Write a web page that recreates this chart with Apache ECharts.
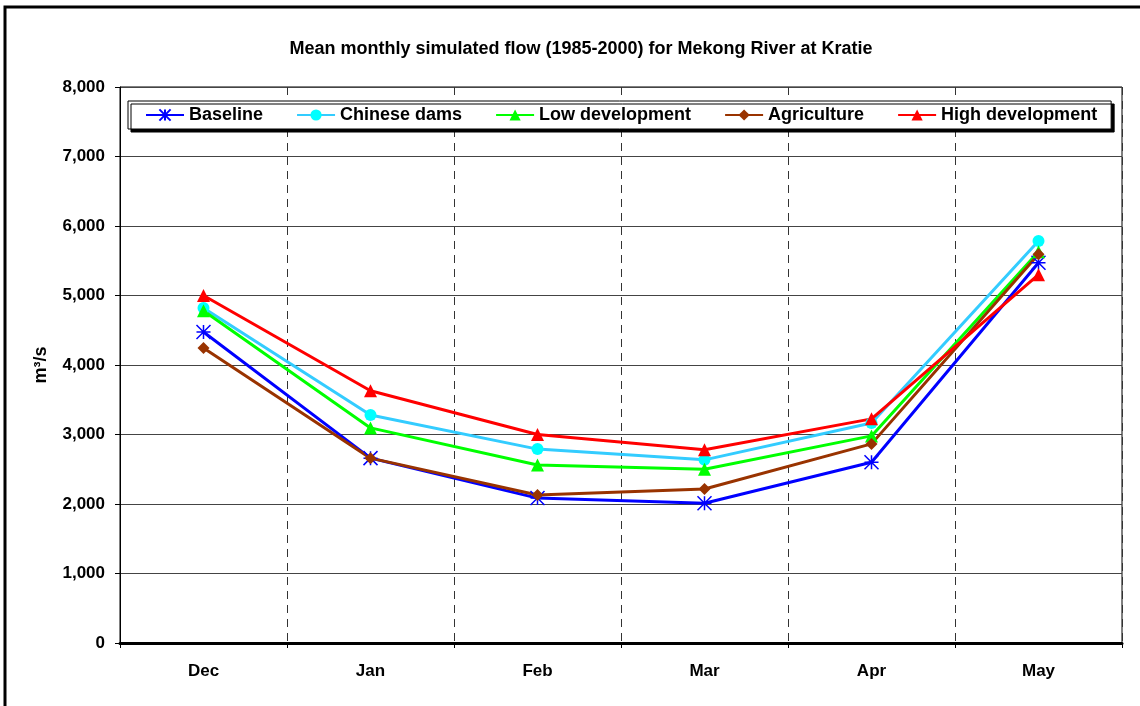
<!DOCTYPE html>
<html>
<head>
<meta charset="utf-8">
<script src="https://cdn.jsdelivr.net/npm/echarts@6/dist/echarts.min.js"></script>
<style>
	html, body { margin: 0; padding: 0; background: #fff; }
	#chart { width: 1140px; height: 706px; }
</style>
</head>
<body>
<div id="chart"></div>
<script>
var months = ['Dec', 'Jan', 'Feb', 'Mar', 'Apr', 'May'];
var yTicks = [0, 1000, 2000, 3000, 4000, 5000, 6000, 7000, 8000];

var baseline        = [4475, 2660, 2085, 2010, 2600, 5470];
var chineseDams     = [4820, 3280, 2790, 2635, 3165, 5785];
var lowDevelopment  = [4780, 3095, 2560, 2500, 2980, 5630];
var agriculture     = [4245, 2660, 2130, 2215, 2865, 5595];
var highDevelopment = [5000, 3630, 3000, 2780, 3225, 5300];

var chart = echarts.init(document.getElementById('chart'));

var fontFamily = 'Arial, "Liberation Sans", sans-serif';
var asterisk = 'path://M0,0 L10,10 M10,0 L0,10 M5,0 L5,10 M0,5 L10,5';

function makeSeries(name, data, color, symbol, symbolSize, markerColor) {
	return {
		name: name,
		type: 'line',
		data: data,
		symbol: symbol,
		symbolSize: symbolSize,
		showAllSymbol: true,
		lineStyle: { width: 3, color: color },
		itemStyle: {
			color: markerColor || color,
			borderColor: markerColor || color,
			borderWidth: symbol === asterisk ? 1.5 : 0
		},
		emphasis: { disabled: true },
		animation: false
	};
}

var options = {
	backgroundColor: '#fff',
	title: {
		text: 'Mean monthly simulated flow (1985-2000) for Mekong River at Kratie',
		left: 576,
		textAlign: 'center',
		top: 35,
		textStyle: { fontFamily: fontFamily, fontSize: 18, fontWeight: 'bold', color: '#000' }
	},
	legend: {
		left: 128,
		top: 101,
		padding: [5, 14, 5, 17],
		itemGap: 33,
		itemWidth: 38,
		itemHeight: 14,
		backgroundColor: '#fff',
		borderColor: '#000',
		borderWidth: 1,
		shadowColor: '#000',
		shadowOffsetX: 3,
		shadowOffsetY: 3,
		shadowBlur: 0,
		textStyle: { fontFamily: fontFamily, fontSize: 18, fontWeight: 'bold', color: '#000' },
		data: ['Baseline', 'Chinese dams', 'Low development', 'Agriculture', 'High development']
	},
	grid: {
		left: 120,
		right: 18,
		top: 87,
		bottom: 63,
		show: true,
		borderColor: '#000',
		borderWidth: 1
	},
	xAxis: {
		type: 'category',
		data: months,
		boundaryGap: true,
		axisLine: { lineStyle: { color: '#000', width: 3 } },
		axisTick: { show: true, length: 5, lineStyle: { color: '#000' } },
		axisLabel: { margin: 20, fontFamily: fontFamily, fontSize: 17, fontWeight: 'bold', color: '#000' },
		splitLine: { show: true, lineStyle: { color: '#333', type: [8, 6], width: 1 } }
	},
	yAxis: {
		type: 'value',
		min: yTicks[0],
		max: yTicks[yTicks.length - 1],
		interval: 1000,
		name: 'm³/s',
		nameLocation: 'middle',
		nameRotate: 90,
		nameGap: 70,
		nameTextStyle: { fontFamily: fontFamily, fontSize: 18, fontWeight: 'bold', color: '#000' },
		axisLine: { show: true, lineStyle: { color: '#000', width: 1 } },
		axisTick: { show: true, length: 5, lineStyle: { color: '#000' } },
		axisLabel: {
			margin: 15,
			fontFamily: fontFamily, fontSize: 17, fontWeight: 'bold', color: '#000',
			formatter: function (v) { return v.toLocaleString('en-US'); }
		},
		splitLine: { show: true, lineStyle: { color: '#444', width: 1 } }
	},
	graphic: [{
		type: 'rect',
		shape: { x: 5, y: 7, width: 1150, height: 720 },
		style: { fill: null, stroke: '#000', lineWidth: 3 },
		silent: true,
		z: 100
	}],
	series: [
		makeSeries('Baseline', baseline, '#0000ff', asterisk, 14),
		makeSeries('Chinese dams', chineseDams, '#33ccff', 'circle', 12, '#00ffff'),
		makeSeries('Low development', lowDevelopment, '#00ff00', 'triangle', 13),
		makeSeries('Agriculture', agriculture, '#993300', 'diamond', 12),
		makeSeries('High development', highDevelopment, '#ff0000', 'triangle', 13)
	]
};

chart.setOption(options);
</script>
</body>
</html>
